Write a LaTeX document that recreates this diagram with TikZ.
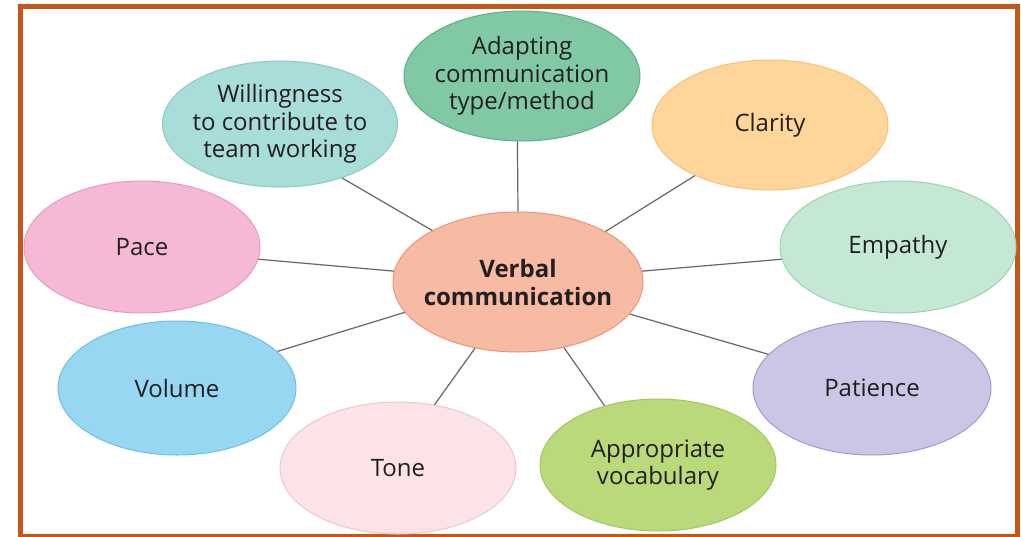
\documentclass[tikz,border=0pt]{standalone}
\usepackage{fontspec}
\setmainfont{Open Sans}
\usetikzlibrary{shapes.geometric}
\definecolor{frame}{HTML}{C5561A}
\definecolor{txt}{HTML}{231F20}
\definecolor{link}{HTML}{666666}
\definecolor{cF}{HTML}{F7BBA4}\definecolor{cD}{HTML}{E8957A}
\definecolor{aF}{HTML}{80C9A4}\definecolor{aD}{HTML}{5BB087}
\definecolor{wF}{HTML}{A8DDD9}\definecolor{wD}{HTML}{8CCBC6}
\definecolor{clF}{HTML}{FFD699}\definecolor{clD}{HTML}{F0C27E}
\definecolor{pF}{HTML}{F5B9D6}\definecolor{pD}{HTML}{E59BC0}
\definecolor{eF}{HTML}{C5E8D4}\definecolor{eD}{HTML}{9BD2B5}
\definecolor{vF}{HTML}{97D7F2}\definecolor{vD}{HTML}{6DC0E3}
\definecolor{ptF}{HTML}{C9C6E6}\definecolor{ptD}{HTML}{9F9BCB}
\definecolor{tF}{HTML}{FCE3E8}\definecolor{tD}{HTML}{EAC8CF}
\definecolor{apF}{HTML}{BAD97A}\definecolor{apD}{HTML}{A2C85E}
\begin{document}
\begin{tikzpicture}[x=1pt,y=-1pt,
  bubble/.style={ellipse, inner xsep=-22pt, inner ysep=0pt, line width=1pt, minimum width=236pt, minimum height=131pt,
    align=center, text=txt, font=\fontsize{24}{27.5}\selectfont},
  conn/.style={draw=link, line width=1.2pt}]
\useasboundingbox (0,0) rectangle (1021,536);
\fill[white] (0,0) rectangle (1021,536);
\draw[frame, line width=5.5pt] (20.3,6.5) rectangle (1017.5,537);

\node[bubble, fill=cF, draw=cD, minimum width=250pt, minimum height=140pt,
  font=\fontsize{24}{28}\selectfont\bfseries] (c) at (518,282) {Verbal\\communication};
\node[bubble, fill=aF, draw=aD, minimum height=130pt] (ad) at (522,76) {Adapting\\communication\\type/method};
\node[bubble, fill=wF, draw=wD, minimum width=235pt, minimum height=126pt] (wi) at (280,124) {Willingness\\to contribute to\\team working};
\node[bubble, fill=clF, draw=clD, minimum height=130pt] (cl) at (770,125) {Clarity};
\node[bubble, fill=pF, draw=pD, minimum height=132pt] (pa) at (142,247) {Pace};
\node[bubble, fill=eF, draw=eD, minimum height=132pt] (em) at (898,247) {Empathy};
\node[bubble, fill=vF, draw=vD, minimum width=238pt, minimum height=134pt] (vo) at (177,388) {Volume};
\node[bubble, fill=ptF, draw=ptD, minimum width=238pt, minimum height=134pt] (pt) at (872,388) {Patience};
\node[bubble, fill=tF, draw=tD, minimum height=132pt] (to) at (398,468) {Tone};
\node[bubble, fill=apF, draw=apD, minimum height=132pt] (ap) at (658,465) {Appropriate\\vocabulary};

\draw[conn] (c.90) -- (ad.266);
\draw[conn] (c.149) -- (wi.-41);
\draw[conn] (c.30) -- (cl.214);
\draw[conn] (c.175) -- (pa.-6);
\draw[conn] (c.5) -- (em.186);
\draw[conn] (c.195) -- (vo.20);
\draw[conn] (c.-16) -- (pt.162);
\draw[conn] (c.237) -- (to.60);
\draw[conn] (c.-55) -- (ap.132);
\end{tikzpicture}
\end{document}
